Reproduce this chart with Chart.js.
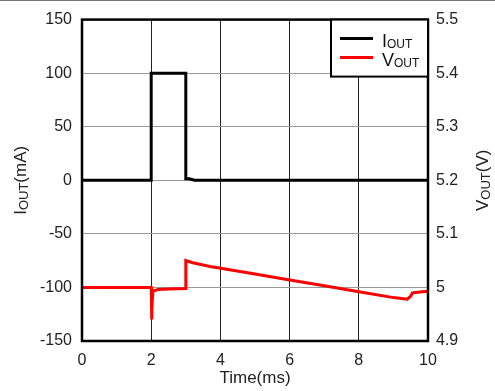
<!DOCTYPE html>
<html>
<head>
<meta charset="utf-8">
<script src="https://cdn.jsdelivr.net/npm/chart.js@4/dist/chart.umd.min.js"></script>
<style>
  body { margin: 0; background: #fff; }
  #wrap { position: relative; width: 495px; height: 391px; }
</style>
</head>
<body>
<div id="wrap"><canvas id="chart"></canvas></div>
<script>
// data
const iTime = [0, 1, 2, 2, 3, 3, 3.1, 3.25, 10];
const iOut = [0, 0, 0, 100, 100, 1.5, 1.5, 0, 0];

const vTime = [0, 2, 2.01, 2.02, 2.05, 2.2, 2.5, 3, 3, 3.2, 3.7, 5, 6, 7, 8, 9, 9.4, 9.5, 9.55, 9.7, 10];
const vOut = [5.0, 5.0, 4.94, 4.96, 4.993, 4.996, 4.997, 4.998, 5.05, 5.046, 5.039, 5.025, 5.014, 5.003, 4.992, 4.981, 4.978, 4.984, 4.99, 4.991, 4.993];

const xTicks = [0, 2, 4, 6, 8, 10];
const legendLabels = [['I', 'OUT'], ['V', 'OUT']];

const FONT = "'Liberation Sans', Arial, sans-serif";
Chart.defaults.font.family = FONT;
Chart.defaults.color = '#222';

const toPoints = (xs, ys) => xs.map((x, i) => ({ x: x, y: ys[i] }));

// text with a subscript part, e.g. I + OUT
function drawSubText(ctx, parts, x, y, align) {
  let total = 0;
  parts.forEach(p => {
    ctx.font = p.size + 'px ' + FONT;
    p.w = ctx.measureText(p.text).width;
    total += p.w;
  });
  let cx = align === 'center' ? x - total / 2 : x;
  ctx.textAlign = 'left';
  ctx.textBaseline = 'alphabetic';
  parts.forEach(p => {
    ctx.font = p.size + 'px ' + FONT;
    ctx.fillText(p.text, cx, y + (p.dy || 0));
    cx += p.w;
  });
}

const decor = {
  id: 'decor',
  afterDraw(chart) {
    const ctx = chart.ctx;
    const a = chart.chartArea;
    ctx.save();

    // thin line at the top edge of the picture
    ctx.strokeStyle = '#777';
    ctx.lineWidth = 1;
    ctx.beginPath();
    ctx.moveTo(0, 0.5);
    ctx.lineTo(chart.width, 0.5);
    ctx.stroke();

    // frame
    ctx.strokeStyle = '#000';
    ctx.lineWidth = 2.5;
    ctx.strokeRect(a.left, a.top, a.right - a.left, a.bottom - a.top);

    // axis titles
    ctx.fillStyle = '#222';
    ctx.save();
    ctx.translate(20, (a.top + a.bottom) / 2);
    ctx.rotate(-Math.PI / 2);
    drawSubText(ctx, [
      { text: 'I', size: 17 },
      { text: 'OUT', size: 13, dy: 2 },
      { text: '(mA)', size: 17 }
    ], 0, 6, 'center');
    ctx.restore();

    ctx.save();
    ctx.translate(482, (a.top + a.bottom) / 2);
    ctx.rotate(-Math.PI / 2);
    drawSubText(ctx, [
      { text: 'V', size: 17 },
      { text: 'OUT', size: 13, dy: 2 },
      { text: '(V)', size: 17 }
    ], 0, 6, 'center');
    ctx.restore();

    // legend
    const lx = 331, ly = a.top, lw = a.right - 331, lh = 57;
    ctx.fillStyle = '#fff';
    ctx.fillRect(lx, ly, lw, lh);
    ctx.strokeStyle = '#000';
    ctx.lineWidth = 2;
    ctx.strokeRect(lx, ly, lw, lh);
    chart.data.datasets.forEach((ds, i) => {
      const y = ly + 19 + i * 19;
      ctx.strokeStyle = ds.borderColor;
      ctx.lineWidth = 3;
      ctx.beginPath();
      ctx.moveTo(340, y);
      ctx.lineTo(373, y);
      ctx.stroke();
      ctx.fillStyle = '#111';
      drawSubText(ctx, [
        { text: legendLabels[i][0], size: 18 },
        { text: legendLabels[i][1], size: 12, dy: 1 }
      ], 382, y + 8, 'left');
    });

    ctx.restore();
  }
};

new Chart(document.getElementById('chart'), {
  type: 'line',
  data: {
    datasets: [{
      label: 'IOUT',
      data: toPoints(iTime, iOut),
      borderColor: '#000',
      borderWidth: 3,
      yAxisID: 'y'
    }, {
      label: 'VOUT',
      data: toPoints(vTime, vOut),
      borderColor: '#ff0000',
      borderWidth: 3,
      yAxisID: 'y1'
    }]
  },
  options: {
    responsive: true,
    maintainAspectRatio: false,
    animation: false,
    layout: { padding: { top: 17, left: 0, right: 0, bottom: 0 } },
    elements: { point: { radius: 0 }, line: { tension: 0 } },
    plugins: { legend: { display: false }, tooltip: { enabled: false } },
    scales: {
      x: {
        type: 'linear',
        min: 0,
        max: 10,
        afterBuildTicks: (s) => { s.ticks = xTicks.map(v => ({ value: v })); },
        afterFit: (s) => { s.height = 50; },
        border: { display: false },
        grid: { color: '#222', lineWidth: 1, drawTicks: false },
        ticks: { padding: 10, font: { size: 16 } },
        title: { display: true, text: 'Time(ms)', font: { size: 17 }, padding: { top: 0, bottom: 2 } }
      },
      y: {
        position: 'left',
        min: -150,
        max: 150,
        afterFit: (s) => { s.width = 82; },
        border: { display: false },
        grid: { color: '#999', lineWidth: 1, drawTicks: false },
        ticks: { stepSize: 50, padding: 10, font: { size: 16 } }
      },
      y1: {
        position: 'right',
        min: 4.9,
        max: 5.5,
        afterFit: (s) => { s.width = 67; },
        border: { display: false },
        grid: { display: false, drawTicks: false },
        ticks: {
          stepSize: 0.1,
          padding: 8,
          font: { size: 16 },
          callback: (v) => String(parseFloat(v.toFixed(1)))
        }
      }
    }
  },
  plugins: [decor]
});
</script>
</body>
</html>
